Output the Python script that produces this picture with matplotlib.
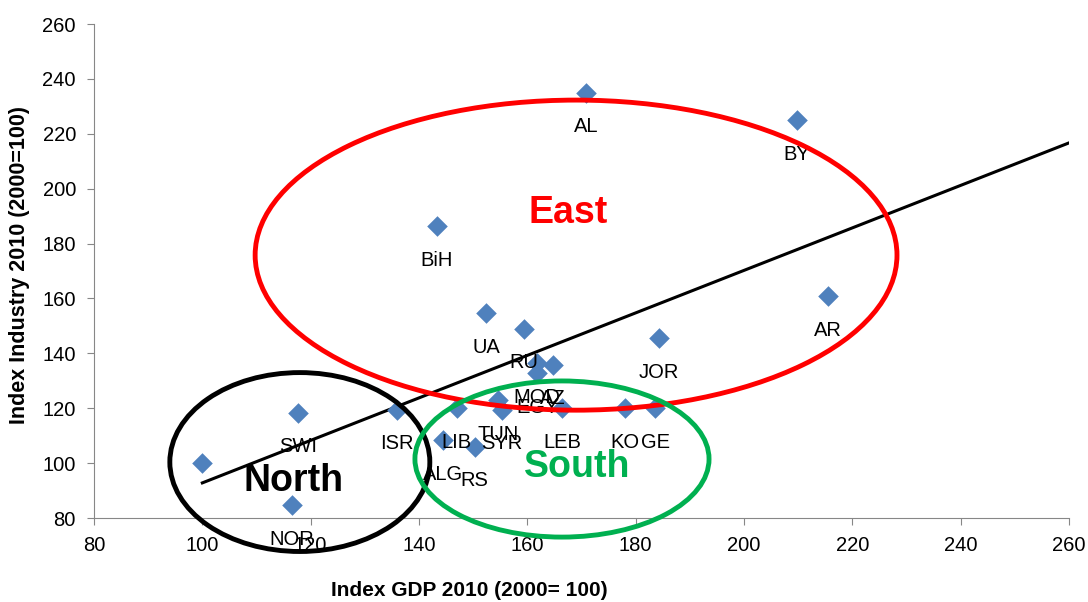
import matplotlib
matplotlib.use("Agg")
import matplotlib.pyplot as plt
from matplotlib.patches import Ellipse

plt.rcParams["font.family"] = ["Liberation Sans", "DejaVu Sans"]

labels = ["", "SWI", "NOR", "ISR", "BiH", "AL", "BY", "AR", "UA", "RU",
          "MOD", "AZ", "EGY", "LIB", "ALG", "RS", "TUN", "SYR", "LEB", "KO", "GE", "JOR"]
gdp = [100, 117.7, 116.6, 135.9, 143.3, 170.8, 209.8, 215.5, 152.4, 159.4,
       161.8, 164.7, 161.8, 147.0, 144.4, 150.3, 154.6, 155.3, 166.4, 178.0, 183.6, 184.3]
industry = [100, 118.3, 84.7, 119.4, 186.4, 234.9, 225.0, 160.9, 154.7, 148.9,
            136.5, 135.8, 132.8, 120.1, 108.4, 105.9, 123.0, 119.4, 120.1, 120.1, 120.1, 145.6]

# trendline as drawn in the source (x from 100 to 260)
trend_x = [100, 260]
trend_y = [92.8, 216.7]

# groups: name, centre x, centre y, width, height, colour
groups = [
    ("East", 169.0, 175.8, 118.5, 113.0, "#FF0000"),
    ("North", 118.0, 100.4, 48.0, 65.2, "#000000"),
    ("South", 166.4, 101.5, 54.3, 56.9, "#00B050"),
]
group_text = {"East": (167.5, 191.0), "North": (116.8, 93.5), "South": (169.3, 98.5)}

fig = plt.figure(figsize=(10.88, 6.02), dpi=100)
ax = fig.add_axes([0.0864, 0.1395, 0.8961, 0.8205])

ax.plot(trend_x, trend_y, color="black", lw=2.2, zorder=2)
ax.scatter(gdp, industry, marker="D", s=110, color="#4F81BD", zorder=3, linewidths=0)
for lab, x, y in zip(labels, gdp, industry):
    if lab:
        ax.annotate(lab, (x, y), xytext=(0, -24.5), textcoords="offset points",
                    ha="center", va="center", fontsize=14.5, zorder=4)

for name, cx, cy, w, h, col in groups:
    ax.add_patch(Ellipse((cx, cy), w, h, fill=False, edgecolor=col, lw=3.5,
                         clip_on=False, zorder=5))
    tx, ty = group_text[name]
    ax.text(tx, ty, name, color=col, fontsize=27, fontweight="bold",
            ha="center", va="center", zorder=6)

ax.set_xlim(80, 260)
ax.set_ylim(80, 260)
ax.set_xticks(range(80, 261, 20))
ax.set_yticks(range(80, 261, 20))
for s in ["top", "right"]:
    ax.spines[s].set_visible(False)
for s in ["left", "bottom"]:
    ax.spines[s].set_color("#878787")
ax.tick_params(colors="#878787", labelcolor="black", labelsize=14.5, length=5, pad=8)
ax.set_xlabel("Index GDP 2010 (2000= 100)", fontsize=15, fontweight="bold")
ax.set_ylabel("Index Industry 2010 (2000=100)", fontsize=15.5, fontweight="bold")
ax.xaxis.set_label_coords(0.385, -0.128)
ax.yaxis.set_label_coords(-0.066, 0.512)

fig.savefig("out.png", dpi=100)
